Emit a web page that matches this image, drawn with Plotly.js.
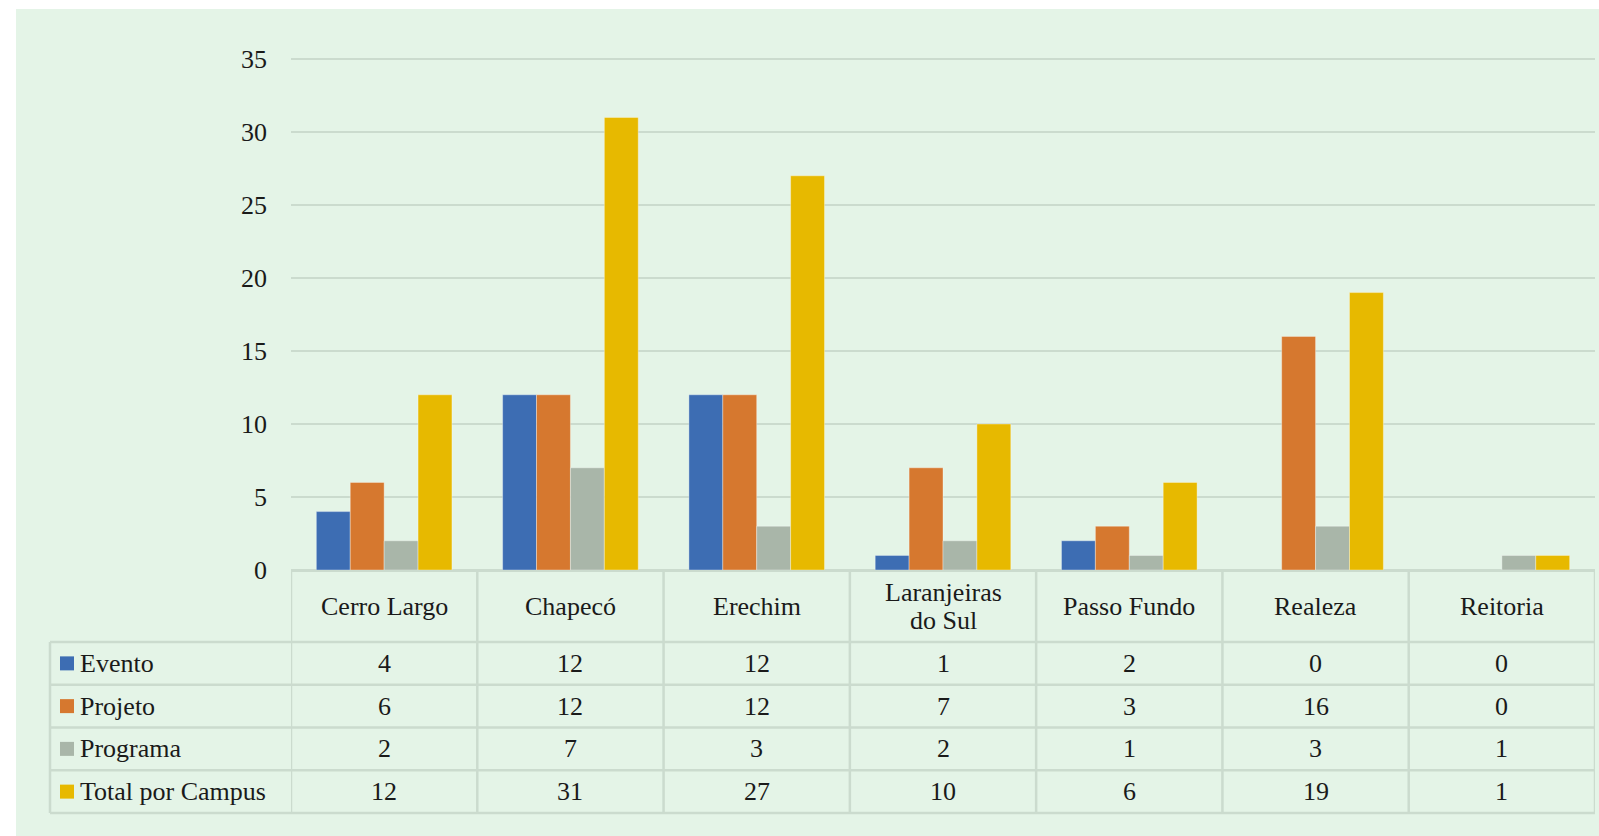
<!DOCTYPE html>
<html>
<head>
<meta charset="utf-8">
<script src="https://cdn.plot.ly/plotly-3.0.1.min.js"></script>
<style>html,body{margin:0;padding:0;background:#ffffff;}#chart{width:1599px;height:836px;}</style>
</head>
<body>
<div id="chart"></div>
<script>
// ---- data ----
const categories = ['Cerro Largo', 'Chapecó', 'Erechim', 'Laranjeiras do Sul', 'Passo Fundo', 'Realeza', 'Reitoria'];
const categoryHeaderLines = [['Cerro Largo'], ['Chapecó'], ['Erechim'], ['Laranjeiras', 'do Sul'], ['Passo Fundo'], ['Realeza'], ['Reitoria']];
const seriesNames = ['Evento', 'Projeto', 'Programa', 'Total por Campus'];
const evento = [4, 12, 12, 1, 2, 0, 0];
const projeto = [6, 12, 12, 7, 3, 16, 0];
const programa = [2, 7, 3, 2, 1, 3, 1];
const totalPorCampus = [12, 31, 27, 10, 6, 19, 1];
const yTickValues = [0, 5, 10, 15, 20, 25, 30, 35];

// ---- styles ----
const seriesColors = ['#3D6DB3', '#D6782F', '#A9B6A9', '#E7B900'];
const seriesValues = [evento, projeto, programa, totalPorCampus];
const BG = '#E4F4E7';
const LINE = '#CBDBCE';
const TEXT = '#1A1A1A';
const FONT = 'Liberation Serif, Times New Roman, serif';
const FS = 26;

const W = 1599, H = 836;
const PL = 291, PR = 1595, PT = 45, PB = 570;
const Y35 = 59;
const unitPx = (PB - Y35) / 35;
const yTop = (PB - PT) / unitPx;
const px2x = p => (p - PL) / (PR - PL);
const py2y = p => (PB - p) / (PB - PT);

const traces = seriesNames.map((name, k) => ({
  type: 'bar',
  name: name,
  x: categories,
  y: seriesValues[k],
  marker: { color: seriesColors[k], line: { color: 'rgba(255,255,255,0.35)', width: seriesValues[k].map(v => v === 0 ? 0 : 1) } },
  hoverinfo: 'x+y+name'
}));

const shapes = [];
const annotations = [];

// background panel
shapes.push({ type: 'rect', xref: 'paper', yref: 'paper', x0: px2x(16), x1: px2x(W + 5), y0: py2y(H + 5), y1: py2y(9),
  fillcolor: BG, line: { width: 0 }, layer: 'below' });

// table geometry (pixel rows)
const headerTop = 571, headerBottom = 642, rowH = 42.75;
const rowLines = [0, 1, 2, 3, 4].map(i => headerBottom + i * rowH);
const tableLeft = 50;

// horizontal lines
rowLines.forEach(py => {
  shapes.push({ type: 'line', xref: 'paper', yref: 'paper', x0: px2x(tableLeft), x1: 1, y0: py2y(py), y1: py2y(py),
    line: { color: LINE, width: 2.5 } });
});
// vertical lines
for (let k = 0; k <= categories.length; k++) {
  shapes.push({ type: 'line', xref: 'x', yref: 'paper', x0: k - 0.5, x1: k - 0.5, y0: py2y(headerTop), y1: py2y(rowLines[4]),
    line: { color: LINE, width: 2.5 } });
}
shapes.push({ type: 'line', xref: 'paper', yref: 'paper', x0: px2x(tableLeft), x1: px2x(tableLeft), y0: py2y(headerBottom), y1: py2y(rowLines[4]),
  line: { color: LINE, width: 2.5 } });

// header labels
const headerCenter = (headerTop + headerBottom) / 2;
const lineSpacing = 27.5;
categoryHeaderLines.forEach((lines, i) => {
  lines.forEach((t, j) => {
    const py = headerCenter + (j - (lines.length - 1) / 2) * lineSpacing;
    annotations.push({ xref: 'x', yref: 'paper', x: i, y: py2y(py), text: t, showarrow: false,
      xanchor: 'center', yanchor: 'middle', font: { family: FONT, size: FS, color: TEXT } });
  });
});

// rows: legend keys, names, values
seriesNames.forEach((name, r) => {
  const cy = rowLines[r] + rowH / 2;
  shapes.push({ type: 'rect', xref: 'paper', yref: 'paper', x0: px2x(60), x1: px2x(74), y0: py2y(cy + 7), y1: py2y(cy - 7),
    fillcolor: seriesColors[r], line: { width: 0 } });
  annotations.push({ xref: 'paper', yref: 'paper', x: px2x(78), y: py2y(cy), text: name, showarrow: false,
    xanchor: 'left', yanchor: 'middle', font: { family: FONT, size: FS, color: TEXT } });
  seriesValues[r].forEach((v, i) => {
    annotations.push({ xref: 'x', yref: 'paper', x: i, y: py2y(cy), text: String(v), showarrow: false,
      xanchor: 'center', yanchor: 'middle', font: { family: FONT, size: FS, color: TEXT } });
  });
});

const layout = {
  width: W, height: H,
  margin: { l: PL, r: W - PR, t: PT, b: H - PB, pad: 0 },
  paper_bgcolor: '#ffffff',
  plot_bgcolor: 'rgba(0,0,0,0)',
  barmode: 'group',
  bargap: 0.272,
  bargroupgap: 0,
  showlegend: false,
  xaxis: { type: 'category', range: [-0.5, categories.length - 0.5], showticklabels: false, showgrid: false,
    zeroline: false, showline: false, ticks: '' },
  yaxis: { range: [0, yTop], tickvals: yTickValues, ticktext: yTickValues.map(String), showgrid: true,
    gridcolor: LINE, gridwidth: 2, zeroline: true, zerolinecolor: LINE, zerolinewidth: 3, showline: false, ticks: '',
    ticklabelstandoff: 23, tickfont: { family: FONT, size: FS, color: TEXT } },
  shapes: shapes,
  annotations: annotations
};

Plotly.newPlot('chart', traces, layout, { displayModeBar: false, staticPlot: true });
</script>
</body>
</html>
